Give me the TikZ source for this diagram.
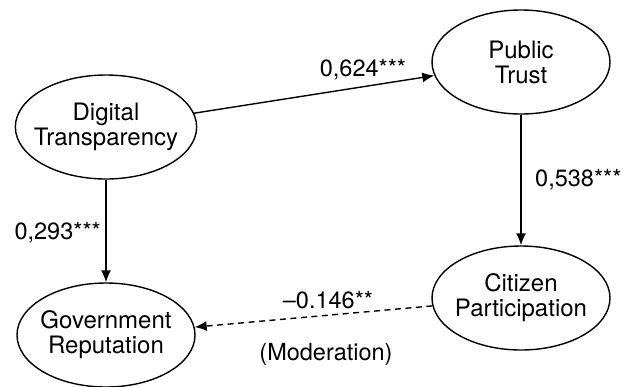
\documentclass[tikz,border=0pt]{standalone}
\usepackage{fontspec}
\setmainfont{TeX Gyre Heros}
\usetikzlibrary{shapes.geometric,arrows.meta}
\begin{document}
\begin{tikzpicture}[x=1pt,y=-1pt,
  latent/.style={ellipse,draw,line width=1.4pt,minimum width=178pt,minimum height=104pt,inner xsep=-8pt,inner ysep=0pt,align=center,font=\fontsize{24}{25}\selectfont},
  path/.style={line width=1.4pt,-{Latex[length=12pt,width=10pt]}},
  modpath/.style={path,dash pattern=on 6pt off 4.5pt},
  coef/.style={font=\fontsize{23.5}{25}\selectfont,inner sep=0pt}]
\useasboundingbox (0,0) rectangle (623,386);
\node[latent] (dt) at (106,127) {Digital\\Transparency};
\node[latent] (pt) at (521,62) {Public\\Trust};
\node[latent] (gr) at (106,335) {Government\\Reputation};
\node[latent] (cp) at (521,298) {Citizen\\Participation};
\draw[path] (dt) -- (pt);
\draw[path] (dt) -- (gr);
\draw[path] (pt) -- (cp);
\draw[modpath] (cp) -- (gr);
\node[coef] (l1) at (363,70) {0,624***};
\node[coef,anchor=east] (l2) at (101,233) {0,293***};
\node[coef,anchor=west] (l3) at (535,180) {0,538***};
\node[coef] (l4) at (328,300) {–0.146**};
\node[coef] (l5) at (326,354) {(Moderation)};
\end{tikzpicture}
\end{document}
